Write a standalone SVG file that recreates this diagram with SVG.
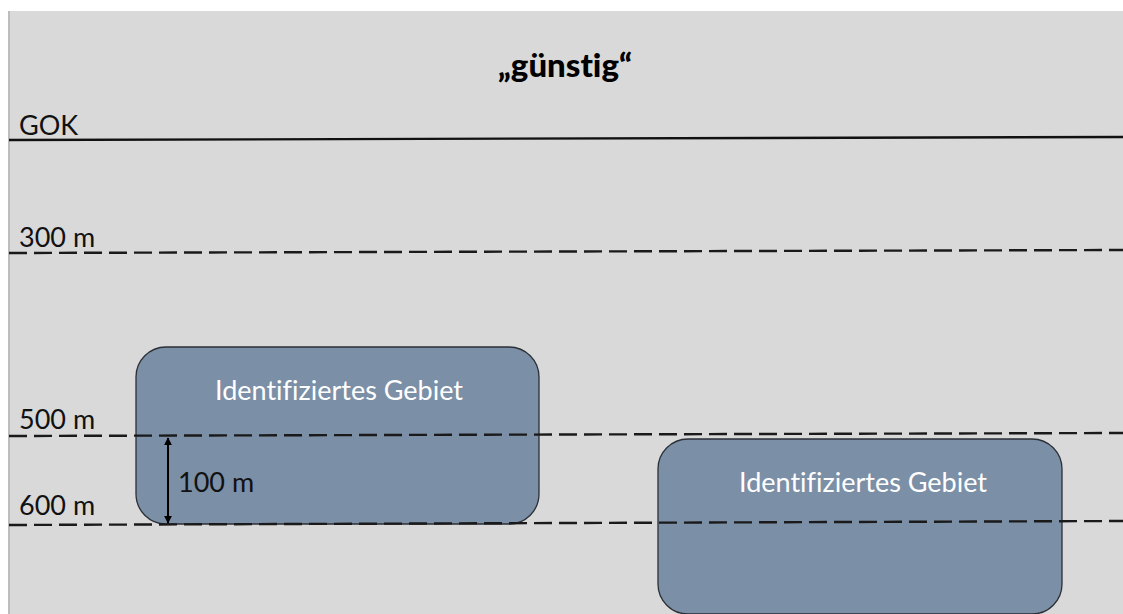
<svg xmlns="http://www.w3.org/2000/svg" width="1123" height="614" viewBox="0 0 1123 614">
<style>
text{font-variant-ligatures:none;font-feature-settings:"liga" 0}
.lbl{font-family:Lato,"Liberation Sans",sans-serif;font-size:27px;fill:#111}
.box{fill:#7b8fa6;stroke:#2b2f36;stroke-width:1.3}
.boxt{font-family:Lato,"Liberation Sans",sans-serif;font-size:27px;fill:#ffffff;text-anchor:middle}
.dash{stroke:#1a1a1a;stroke-width:2.4;stroke-dasharray:18 7;fill:none}
</style>
<defs>
<marker id="ah" viewBox="0 0 10 10" refX="9" refY="5" markerWidth="8" markerHeight="9" markerUnits="userSpaceOnUse" orient="auto-start-reverse">
<path d="M0,0 L10,5 L0,10 z" fill="#000"/>
</marker>
</defs>
<rect x="0" y="0" width="1123" height="614" fill="#ffffff"/>
<rect x="9" y="11" width="1114" height="603" fill="#d9d9d9"/>
<line x1="9" y1="11" x2="9" y2="614" stroke="#bdbdbd" stroke-width="2"/>
<text x="565" y="77" font-family="Lato,'Liberation Sans',sans-serif" font-size="33" font-weight="900" fill="#000" text-anchor="middle">„günstig“</text>
<g id="box1">
<rect class="box" x="136" y="347" width="403" height="177" rx="30" ry="30"/>
<text class="boxt" x="339" y="400">Identifiziertes Gebiet</text>
</g>
<g id="box2">
<rect class="box" x="658" y="439" width="404" height="175" rx="30" ry="30"/>
<text class="boxt" x="863" y="492">Identifiziertes Gebiet</text>
</g>
<g id="connectors">
<line x1="9" y1="140" x2="1123" y2="137" stroke="#111" stroke-width="2.4"/>
<line class="dash" x1="9" y1="253" x2="1123" y2="250"/>
<line class="dash" x1="9" y1="436" x2="1123" y2="433"/>
<line class="dash" x1="9" y1="525" x2="1123" y2="521"/>
<line x1="168" y1="438" x2="168" y2="523" stroke="#000" stroke-width="2" marker-start="url(#ah)" marker-end="url(#ah)"/>
</g>
<g id="labels">
<text class="lbl" x="19" y="135">GOK</text>
<text class="lbl" x="19" y="247">300 m</text>
<text class="lbl" x="19" y="429">500 m</text>
<text class="lbl" x="19" y="515">600 m</text>
<text class="lbl" x="178" y="492">100 m</text>
</g>
</svg>
